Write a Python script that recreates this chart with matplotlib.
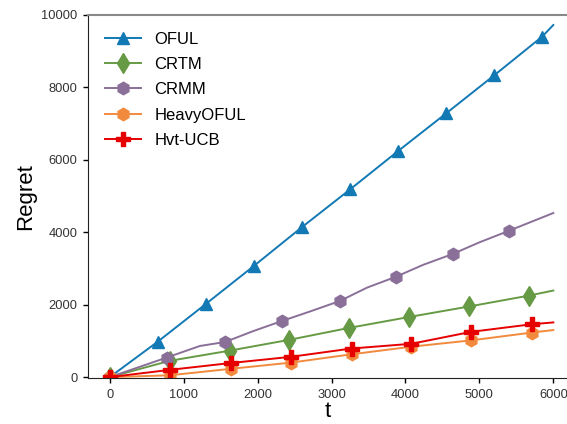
import matplotlib
matplotlib.use('Agg')
import matplotlib.pyplot as plt

plt.rcParams['font.family'] = ['Liberation Sans', 'DejaVu Sans']

# donnees
t_oful = [0, 650, 1300, 1950, 2600, 3250, 3900, 4550, 5200, 5850, 6000]
regret_oful = [0, 980, 2020, 3070, 4140, 5180, 6240, 7280, 8330, 9400, 9720]

t_crtm = [0, 810, 1620, 2430, 3240, 4050, 4860, 5670, 6000]
regret_crtm = [0, 450, 730, 1030, 1360, 1660, 1950, 2250, 2390]

t_crmm = [0, 770, 1220, 1560, 1940, 2330, 2720, 3110, 3480, 3870, 4240, 4640, 5000, 5400, 6000]
regret_crmm = [0, 540, 860, 970, 1270, 1550, 1820, 2100, 2470, 2770, 3100, 3400, 3720, 4040, 4530]
marks_crmm = [0, 1, 3, 5, 7, 9, 11, 13]

t_heavy = [0, 810, 1640, 2450, 3270, 4080, 4890, 5710, 6000]
regret_heavy = [0, 50, 230, 400, 630, 840, 1015, 1230, 1300]

t_hvt = [0, 810, 1640, 2450, 3270, 4080, 4890, 5710, 6000]
regret_hvt = [0, 200, 390, 560, 790, 920, 1250, 1460, 1510]

xticks = [0, 1000, 2000, 3000, 4000, 5000, 6000]
yticks = [0, 2000, 4000, 6000, 8000, 10000]

fig = plt.figure(figsize=(5.67, 4.24), dpi=100)
ax = fig.add_axes([0.155, 0.108, 0.845, 0.857])

lw = 1.4
ax.plot(t_oful, regret_oful, color='#1279b4', marker='^', ms=9, lw=lw,
        markevery=slice(0, -1), label='OFUL')
ax.plot(t_crtm, regret_crtm, color='#679a45', marker='d', ms=10, lw=lw,
        markevery=slice(0, -1), label='CRTM')
ax.plot(t_crmm, regret_crmm, color='#8a7098', marker='h', ms=9, lw=lw,
        markevery=marks_crmm, label='CRMM')
ax.plot(t_heavy, regret_heavy, color='#f28a3e', marker='h', ms=9, lw=lw,
        markevery=slice(0, -1), label='HeavyOFUL')
ax.plot(t_hvt, regret_hvt, color='#e60000', marker='P', ms=9.5, lw=lw,
        markevery=slice(0, -1), label='Hvt-UCB')

ax.set_xlim(-296, 6185)
ax.set_ylim(-30, 10000)
ax.set_xticks(xticks)
ax.set_yticks(yticks)
ax.tick_params(labelsize=9.3, labelcolor='#333333', length=3.5, width=1, pad=4)

ax.spines['right'].set_visible(False)
ax.spines['top'].set_color('#888888')
ax.spines['top'].set_linewidth(1.5)
ax.spines['left'].set_color('#222222')
ax.spines['bottom'].set_color('#222222')

ax.set_xlabel('t', fontsize=16, labelpad=0)
ax.set_ylabel('Regret', fontsize=16, labelpad=4)

ax.legend(loc='upper left', frameon=False, fontsize=12, handlelength=2.2,
          handletextpad=0.8, labelspacing=0.62, borderaxespad=0.6)

fig.savefig('out.png', dpi=100)
